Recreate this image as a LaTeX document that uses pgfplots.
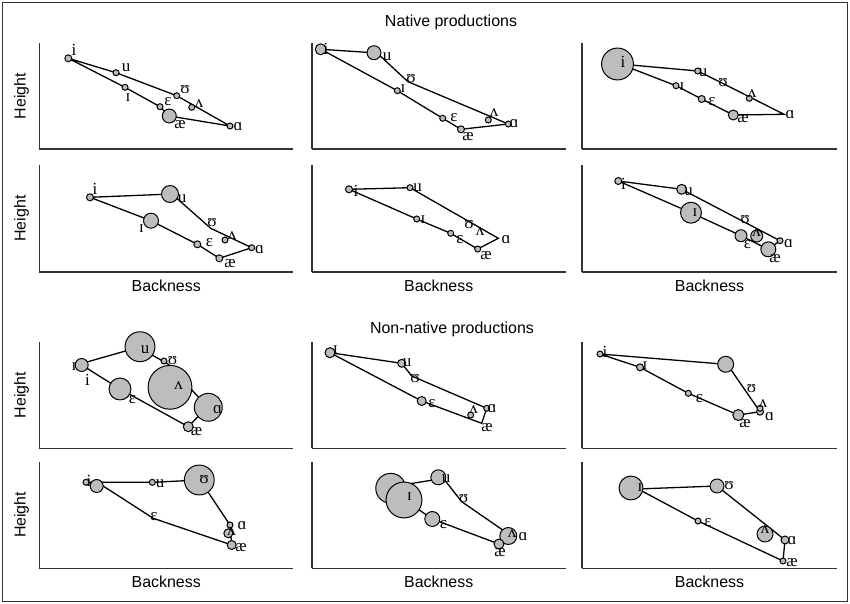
\documentclass[border=0pt]{standalone}
\usepackage{fontspec}
\setmainfont{Liberation Sans}
\newfontfamily\ipa{Liberation Serif}
\usepackage{pgfplots}
\pgfplotsset{compat=1.18}
\definecolor{circgray}{HTML}{BDBDBD}
\newcommand\lab{\fontsize{16}{19}\selectfont}
\newcommand\ipaf{\ipa\fontsize{17}{20}\selectfont}
\pgfplotsset{
  panel/.style={scale only axis, anchor=north west, axis lines=left,
    axis line style={-, line width=1.6bp, draw=black!80},
    xtick=\empty, ytick=\empty, clip=false,
    every axis y label/.style={at={(axis description cs:-0.071,0.5)}, rotate=90, anchor=center, font=\lab},
    every axis x label/.style={at={(axis description cs:0.5,-0.131)}, anchor=center, font=\lab}},
  c1/.style={xmin=39.5, xmax=293, width=253.5bp},
  c2/.style={xmin=312, xmax=565.5, width=253.5bp},
  c3/.style={xmin=582, xmax=837, width=255bp},
  r1/.style={ymin=-149, ymax=-43, height=106bp},
  r2/.style={ymin=-272, ymax=-165, height=107bp},
  r3/.style={ymin=-448.3, ymax=-341.7, height=106.6bp},
  r4/.style={ymin=-568.3, ymax=-461.5, height=106.8bp},
  circ/.style={scatter, only marks, mark=*,
    scatter/use mapped color={draw=black, fill=circgray},
    visualization depends on={\thisrow{r}\as\rad},
    scatter/@pre marker code/.append style={/tikz/mark size=\rad},
    mark options={line width=1bp}},
  poly/.style={black, line width=1.3bp, mark=none},
  lab/.style={draw=none, mark=none, nodes near coords, point meta=explicit symbolic,
    every node near coord/.append style={anchor=center, inner sep=0pt, font=\ipaf, text=black}},
}
\begin{document}
\begin{tikzpicture}
\path[use as bounding box] (0,0) rectangle (850bp,-604bp);
\draw[line width=1.3bp, black!80] (2.5bp,-2.5bp) rectangle (847.5bp,-601.5bp);
\node[font=\lab] at (451bp,-22.5bp) {Native productions};
\node[font=\lab] at (452bp,-329.5bp) {Non-native productions};

% ---------- Native row 1 ----------
\begin{axis}[panel, c1, r1, at={(39.5bp,-43bp)}, ylabel={Height}]
\addplot[circ] table[row sep=\\, y expr=-\thisrow{y}] {x y r\\
68.3 58.3 3.5\\ 116 72.7 3\\ 125 87.3 3\\ 176.7 95.7 3\\ 191.7 107.3 3\\ 160 106.7 3\\ 169.3 116 7\\ 230 126 3\\};
\addplot[poly] table[row sep=\\, y expr=-\thisrow{y}] {x y\\
68.3 58.3\\ 125 87.3\\ 160 106.7\\ 169.3 116\\ 230 126\\ 176.7 95.7\\ 116 72.7\\ 68.3 58.3\\};
\addplot[lab] table[row sep=\\, y expr=-\thisrow{y}, meta=t] {x y t\\
74 50 i\\ 126 68 u\\ 128 98 ɪ\\ 185 90 ʊ\\ 199 104 ʌ\\ 168 102 ɛ\\ 180 125 æ\\ 238 127 ɑ\\};
\end{axis}

\begin{axis}[panel, c2, r1, at={(312bp,-43bp)}]
\addplot[circ] table[row sep=\\, y expr=-\thisrow{y}] {x y r\\
320.7 49.3 5.5\\ 374 52.7 7\\ 397.3 90.7 3\\ 442.7 118.3 3\\ 461 129.3 3.5\\ 508.3 124 3\\ 488.3 120 3\\};
\addplot[poly] table[row sep=\\, y expr=-\thisrow{y}] {x y\\
321 49.3\\ 377 53\\ 408 81.7\\ 508.3 124\\ 461 129.3\\ 442.7 118.3\\ 397.3 90.7\\ 321 49.3\\};
\addplot[lab] table[row sep=\\, y expr=-\thisrow{y}, meta=t] {x y t\\
326 49 i\\ 387 57 u\\ 411 79 ʊ\\ 403 89 ɪ\\ 454 118 ɛ\\ 468 137 æ\\ 514 124 ɑ\\ 494 113 ʌ\\};
\end{axis}

\begin{axis}[panel, c3, r1, at={(582bp,-43bp)}]
\addplot[circ] table[row sep=\\, y expr=-\thisrow{y}] {x y r\\
617.5 64 16\\ 697.7 71 3\\ 749.3 98.3 3\\ 733.3 115 5\\ 701.7 99 3.5\\ 676 85.7 3\\};
\addplot[poly] table[row sep=\\, y expr=-\thisrow{y}] {x y\\
620 64\\ 697.7 71\\ 720 82\\ 784 114.3\\ 733.3 115\\ 701.7 99\\ 676 85.7\\ 620 64\\};
\addplot[lab] table[row sep=\\, y expr=-\thisrow{y}, meta=t] {x y t\\
623 62 i\\ 703 73 u\\ 723 83 ʊ\\ 752 94 ʌ\\ 790 115 ɑ\\ 743 119 æ\\ 712 102 ɛ\\ 682 87 ɪ\\};
\end{axis}

% ---------- Native row 2 ----------
\begin{axis}[panel, c1, r2, at={(39.5bp,-165bp)}, ylabel={Height}, xlabel={Backness}]
\addplot[circ] table[row sep=\\, y expr=-\thisrow{y}] {x y r\\
90 197.3 3.5\\ 170 194 8.5\\ 225 240 3\\ 251.7 247.7 3\\ 219.3 258.3 3.5\\ 197.3 244.3 3.5\\ 151 220.7 7.5\\};
\addplot[poly] table[row sep=\\, y expr=-\thisrow{y}] {x y\\
90 197.3\\ 172 194\\ 210.7 228.3\\ 251.7 247.7\\ 219.3 258.3\\ 197.3 244.3\\ 151 220.7\\ 90 197.3\\};
\addplot[lab] table[row sep=\\, y expr=-\thisrow{y}, meta=t] {x y t\\
95 188.5 i\\ 182 198.5 u\\ 212 222.5 ʊ\\ 232 236 ʌ\\ 259.5 250 ɑ\\ 230 263.5 æ\\ 209.5 242.5 ɛ\\ 141.5 228.5 ɪ\\};
\end{axis}

\begin{axis}[panel, c2, r2, at={(312bp,-165bp)}, xlabel={Backness}]
\addplot[circ] table[row sep=\\, y expr=-\thisrow{y}] {x y r\\
349 189.3 3.5\\ 410 187.7 3\\ 477.7 249 3\\ 450.7 233.3 3\\ 416.7 219 3\\};
\addplot[poly] table[row sep=\\, y expr=-\thisrow{y}] {x y\\
349 189.3\\ 410 187.7\\ 498.3 238.3\\ 477.7 249\\ 450.7 233.3\\ 416.7 219\\ 349 189.3\\};
\addplot[lab] table[row sep=\\, y expr=-\thisrow{y}, meta=t] {x y t\\
356 191 i\\ 417.5 187.5 u\\ 469 225 ʊ\\ 480 232 ʌ\\ 506 239.5 ɑ\\ 486 256 æ\\ 460 240 ɛ\\ 423 220 ɪ\\};
\end{axis}

\begin{axis}[panel, c3, r2, at={(582bp,-165bp)}, xlabel={Backness}]
\addplot[circ] table[row sep=\\, y expr=-\thisrow{y}] {x y r\\
618.3 181 3.5\\ 681.7 189.3 5\\ 691 212.7 10.5\\ 756.7 236 6\\ 780 240.7 3\\ 768.3 249.3 7.5\\ 741 235.7 6\\};
\addplot[poly] table[row sep=\\, y expr=-\thisrow{y}] {x y\\
618.3 181\\ 681.7 189.3\\ 780 240.7\\ 768.3 249.3\\ 741 235.7\\ 691 212.7\\ 618.3 181\\};
\addplot[lab] table[row sep=\\, y expr=-\thisrow{y}, meta=t] {x y t\\
623.5 183.5 i\\ 688.5 192 u\\ 695 212.5 ɪ\\ 745 220 ʊ\\ 756.7 233 ʌ\\ 788.5 243.5 ɑ\\ 775 258.5 æ\\ 747.5 244.5 ɛ\\};
\end{axis}

% ---------- Non-native row 1 ----------
\begin{axis}[panel, c1, r3, at={(39.5bp,-341.7bp)}, ylabel={Height}]
\addplot[circ] table[row sep=\\, y expr=-\thisrow{y}] {x y r\\
81.7 365 6.5\\ 140 346.7 15\\ 164 361 3\\ 170 387.3 22\\ 208.3 407.3 14\\ 188.3 426.7 5\\ 120 389 11\\};
\addplot[poly] table[row sep=\\, y expr=-\thisrow{y}] {x y\\
81.7 363.5\\ 138.3 347.3\\ 168 364\\ 207.3 406.7\\ 188.3 426.7\\ 120 389\\ 81.7 365\\ 81.7 363.5\\};
\addplot[lab] table[row sep=\\, y expr=-\thisrow{y}, meta=t] {x y t\\
74 366.5 ɪ\\ 87.5 379.5 i\\ 145 349.5 u\\ 172.5 361 ʊ\\ 178.5 386 ʌ\\ 217.5 409.5 ɑ\\ 196.5 431.5 æ\\ 132.5 400 ɛ\\};
\end{axis}

\begin{axis}[panel, c2, r3, at={(312bp,-341.7bp)}]
\addplot[circ] table[row sep=\\, y expr=-\thisrow{y}] {x y r\\
330 352.7 5\\ 401.7 363.3 4\\ 470.7 415 3\\ 486.7 408.3 3\\ 421.7 401 4.5\\};
\addplot[poly] table[row sep=\\, y expr=-\thisrow{y}] {x y\\
330 352.7\\ 401.7 363.3\\ 411.7 376\\ 486.7 408.3\\ 481.7 423.3\\ 421.7 401\\ 330 352.7\\};
\addplot[lab] table[row sep=\\, y expr=-\thisrow{y}, meta=t] {x y t\\
335.5 350 ɪ\\ 407 362.5 u\\ 415 378.5 ʊ\\ 473.5 410 ʌ\\ 492 408.5 ɑ\\ 487 428 æ\\ 432 403.5 ɛ\\};
\end{axis}

\begin{axis}[panel, c3, r3, at={(582bp,-341.7bp)}]
\addplot[circ] table[row sep=\\, y expr=-\thisrow{y}] {x y r\\
600 354 3\\ 640 367.3 3.5\\ 688.3 393.3 3\\ 738.3 415 5.5\\ 760 411.7 3.5\\ 760 408.3 3\\ 725.7 364.3 8\\};
\addplot[poly] table[row sep=\\, y expr=-\thisrow{y}] {x y\\
600 354\\ 725.7 364.3\\ 730 368.3\\ 760 411.7\\ 738.3 415\\ 688.3 393.3\\ 640 367.3\\ 600 354\\};
\addplot[lab] table[row sep=\\, y expr=-\thisrow{y}, meta=t] {x y t\\
605 351.5 i\\ 645 366 ɪ\\ 699.5 398.5 ɛ\\ 745 423.5 æ\\ 769.5 417 ɑ\\ 763 404 ʌ\\ 751.5 388.5 ʊ\\};
\end{axis}

% ---------- Non-native row 2 ----------
\begin{axis}[panel, c1, r4, at={(39.5bp,-461.5bp)}, ylabel={Height}, xlabel={Backness}]
\addplot[circ] table[row sep=\\, y expr=-\thisrow{y}] {x y r\\
86 482.3 3\\ 96.7 486 6.5\\ 152.3 482.3 3\\ 199.3 480 15\\ 230 525 3\\ 228.3 533.3 4.5\\ 231.7 545 4.5\\};
\addplot[poly] table[row sep=\\, y expr=-\thisrow{y}] {x y\\
86 482.3\\ 152.3 482.3\\ 200 480\\ 230 525\\ 231.7 545\\ 153.3 518.3\\ 100 484\\ 86 482.3\\};
\addplot[lab] table[row sep=\\, y expr=-\thisrow{y}, meta=t] {x y t\\
89 480.5 i\\ 160 484 u\\ 204 479.5 ʊ\\ 242 525.5 ɑ\\ 231.5 532 ʌ\\ 241 547.5 æ\\ 154 516.5 ɛ\\};
\end{axis}

\begin{axis}[panel, c2, r4, at={(312bp,-461.5bp)}, xlabel={Backness}]
\addplot[circ] table[row sep=\\, y expr=-\thisrow{y}] {x y r\\
390.7 488.3 15\\ 404 500 18\\ 438.3 477.3 7.5\\ 508.3 536 8.5\\ 499 544 5\\ 432.3 519 7.5\\};
\addplot[poly] table[row sep=\\, y expr=-\thisrow{y}] {x y\\
391.7 486.7\\ 443.3 478.3\\ 461.7 501.7\\ 510 535\\ 499 544\\ 432.3 519\\ 407.3 501.7\\ 391.7 486.7\\};
\addplot[lab] table[row sep=\\, y expr=-\thisrow{y}, meta=t] {x y t\\
409.5 496.5 ɪ\\ 446 478.5 u\\ 463.5 499 ʊ\\ 512 534 ʌ\\ 523 537 ɑ\\ 500 552.5 æ\\ 443.5 525 ɛ\\};
\end{axis}

\begin{axis}[panel, c3, r4, at={(582bp,-461.5bp)}, xlabel={Backness}]
\addplot[circ] table[row sep=\\, y expr=-\thisrow{y}] {x y r\\
631 488 12\\ 717 486 7\\ 765 534 8\\ 785 540 4\\ 783 561 3\\ 698 521 3\\};
\addplot[poly] table[row sep=\\, y expr=-\thisrow{y}] {x y\\
637 489\\ 717 486\\ 785 540\\ 783 561\\ 698 521\\ 640 490\\ 637 489\\};
\addplot[lab] table[row sep=\\, y expr=-\thisrow{y}, meta=t] {x y t\\
640 488 ɪ\\ 729 486 ʊ\\ 765 530 ʌ\\ 792 541 ɑ\\ 792 563 æ\\ 708 523 ɛ\\};
\end{axis}
\end{tikzpicture}
\end{document}
